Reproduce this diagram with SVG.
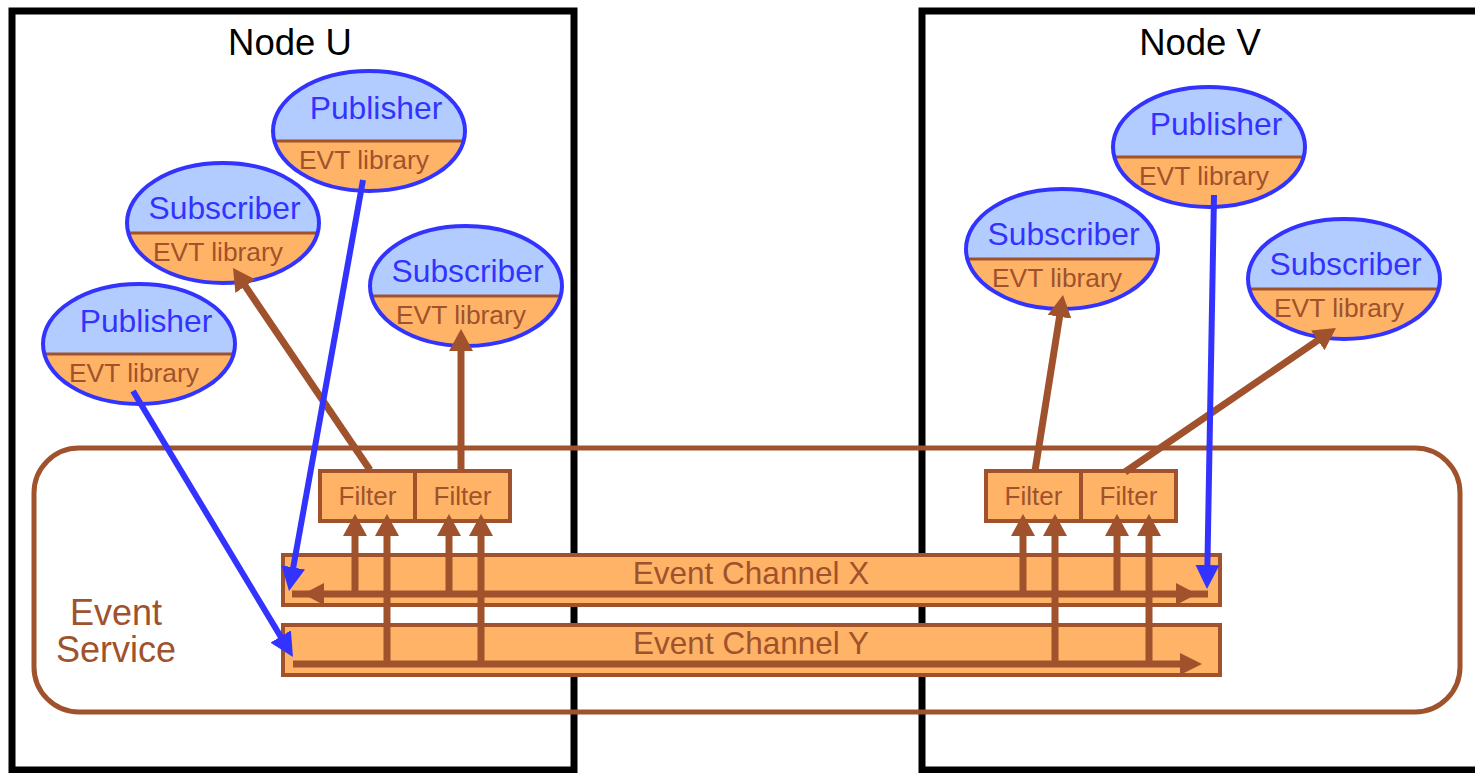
<svg xmlns="http://www.w3.org/2000/svg" width="1475" height="773" viewBox="0 0 1475 773">
<style>
.node-box{fill:none;stroke:#000;stroke-width:7}
.title{font-family:"Liberation Sans",Arial,sans-serif;font-size:36.5px;fill:#000;text-anchor:middle}
.svc{fill:none;stroke:#A0522D;stroke-width:5}
.svc-label{font-family:"Liberation Sans",Arial,sans-serif;font-size:36px;fill:#A0522D;text-anchor:middle}
.ell-top{fill:#B3CCFF}
.ell-bot{fill:#FFB366}
.ell-div{stroke:#A0522D;stroke-width:3}
.ell-out{fill:none;stroke:#3333FF;stroke-width:4}
.role{font-family:"Liberation Sans",Arial,sans-serif;font-size:31.8px;fill:#3333FF;text-anchor:middle}
.lib{font-family:"Liberation Sans",Arial,sans-serif;font-size:26.4px;fill:#A0522D;text-anchor:middle}
.box{fill:#FFB366;stroke:#A0522D;stroke-width:4}
.boxtxt{font-family:"Liberation Sans",Arial,sans-serif;font-size:26px;fill:#A0522D;text-anchor:middle}
.chtxt{font-family:"Liberation Sans",Arial,sans-serif;font-size:31.5px;fill:#A0522D;text-anchor:middle}
.bline{stroke:#A0522D;stroke-width:7;fill:none}
.bhead{fill:#A0522D}
.brown-arrow{stroke:#A0522D;stroke-width:7;fill:none;marker-end:url(#bh)}
.blue-arrow{stroke:#3333FF;stroke-width:6;fill:none;marker-end:url(#uh)}
</style>
<defs>
<marker id="bh" markerUnits="userSpaceOnUse" markerWidth="22" markerHeight="24" refX="4" refY="12" orient="auto" viewBox="0 0 22 24">
<path d="M0,0 L22,12 L0,24 Z" fill="#A0522D"/>
</marker>
<marker id="uh" markerUnits="userSpaceOnUse" markerWidth="24" markerHeight="24" refX="6" refY="12" orient="auto" viewBox="0 0 24 24">
<path d="M0,0 L24,12 L0,24 Z" fill="#3333FF"/>
</marker>
<g id="ellshape">
<ellipse class="ell-top" cx="0" cy="0" rx="96" ry="60"/>
<path class="ell-bot" d="M-94.7,10 A96 60 0 0 0 94.7,10 Z"/>
<line class="ell-div" x1="-94.7" y1="10" x2="94.7" y2="10"/>
<ellipse class="ell-out" cx="0" cy="0" rx="96" ry="60"/>
</g>
</defs>
<rect width="1475" height="773" fill="#fff"/>

<g id="nodeU">
<rect class="node-box" x="12" y="11" width="562" height="759"/>
<text class="title" x="290" y="55">Node U</text>
</g>
<g id="nodeV">
<rect class="node-box" x="922" y="11" width="580" height="759"/>
<text class="title" x="1200" y="55">Node V</text>
</g>

<g id="eventService">
<rect class="svc" x="34" y="448" width="1426" height="264" rx="45" ry="45"/>
<text class="svc-label" x="116" y="625">Event</text>
<text class="svc-label" x="116" y="662">Service</text>
</g>

<g id="pubU1" transform="translate(369,131)">
<use href="#ellshape"/>
<text class="role" x="7" y="-12">Publisher</text>
<text class="lib" x="-5" y="38">EVT library</text>
</g>
<g id="subU1" transform="translate(223,223)">
<use href="#ellshape"/>
<text class="role" x="1.5" y="-4">Subscriber</text>
<text class="lib" x="-5" y="38">EVT library</text>
</g>
<g id="pubU2" transform="translate(139,344)">
<use href="#ellshape"/>
<text class="role" x="7" y="-12">Publisher</text>
<text class="lib" x="-5" y="38">EVT library</text>
</g>
<g id="subU2" transform="translate(466,286)">
<use href="#ellshape"/>
<text class="role" x="1.5" y="-4">Subscriber</text>
<text class="lib" x="-5" y="38">EVT library</text>
</g>
<g id="pubV" transform="translate(1209,147)">
<use href="#ellshape"/>
<text class="role" x="7" y="-12">Publisher</text>
<text class="lib" x="-5" y="38">EVT library</text>
</g>
<g id="subV1" transform="translate(1062,249)">
<use href="#ellshape"/>
<text class="role" x="1.5" y="-4">Subscriber</text>
<text class="lib" x="-5" y="38">EVT library</text>
</g>
<g id="subV2" transform="translate(1344,279)">
<use href="#ellshape"/>
<text class="role" x="1.5" y="-4">Subscriber</text>
<text class="lib" x="-5" y="38">EVT library</text>
</g>

<g id="filtersU">
<rect class="box" x="320" y="471" width="95" height="50"/>
<rect class="box" x="415" y="471" width="95" height="50"/>
<text class="boxtxt" x="367.5" y="505">Filter</text>
<text class="boxtxt" x="462.5" y="505">Filter</text>
</g>
<g id="filtersV">
<rect class="box" x="986" y="471" width="95" height="50"/>
<rect class="box" x="1081" y="471" width="95" height="50"/>
<text class="boxtxt" x="1033.5" y="505">Filter</text>
<text class="boxtxt" x="1128.5" y="505">Filter</text>
</g>

<g id="channelX">
<rect class="box" x="283" y="555" width="937" height="50"/>
<text class="chtxt" x="751" y="584">Event Channel X</text>
<line class="bline" x1="292" y1="594" x2="1208" y2="594"/>
<path class="bhead" d="M303,594 L324,583 L324,605 Z"/>
<path class="bhead" d="M1197,594 L1176,583 L1176,605 Z"/>
</g>
<g id="channelY">
<rect class="box" x="283" y="625" width="937" height="50"/>
<text class="chtxt" x="751" y="654">Event Channel Y</text>
<line class="bline" x1="293" y1="664" x2="1190" y2="664"/>
<path class="bhead" d="M1202,664 L1180,653 L1180,675 Z"/>
</g>

<g id="connectors">
<line class="brown-arrow" x1="355" y1="594" x2="355" y2="532"/>
<line class="brown-arrow" x1="387" y1="664" x2="387" y2="532"/>
<line class="brown-arrow" x1="449" y1="594" x2="449" y2="532"/>
<line class="brown-arrow" x1="481" y1="664" x2="481" y2="532"/>
<line class="brown-arrow" x1="1023" y1="594" x2="1023" y2="532"/>
<line class="brown-arrow" x1="1055" y1="664" x2="1055" y2="532"/>
<line class="brown-arrow" x1="1117" y1="594" x2="1117" y2="532"/>
<line class="brown-arrow" x1="1149" y1="664" x2="1149" y2="532"/>
<line class="brown-arrow" x1="370" y1="470" x2="243.1" y2="282.9"/>
<line class="brown-arrow" x1="461" y1="471" x2="461" y2="347"/>
<line class="brown-arrow" x1="1035" y1="471" x2="1060.2" y2="312.8"/>
<line class="brown-arrow" x1="1125" y1="472" x2="1321.1" y2="338.1"/>
<line class="blue-arrow" x1="363" y1="180" x2="292.2" y2="573.3"/>
<line class="blue-arrow" x1="133" y1="391" x2="283.7" y2="641.6"/>
<line class="blue-arrow" x1="1214" y1="195" x2="1207.3" y2="571"/>
</g>
</svg>
